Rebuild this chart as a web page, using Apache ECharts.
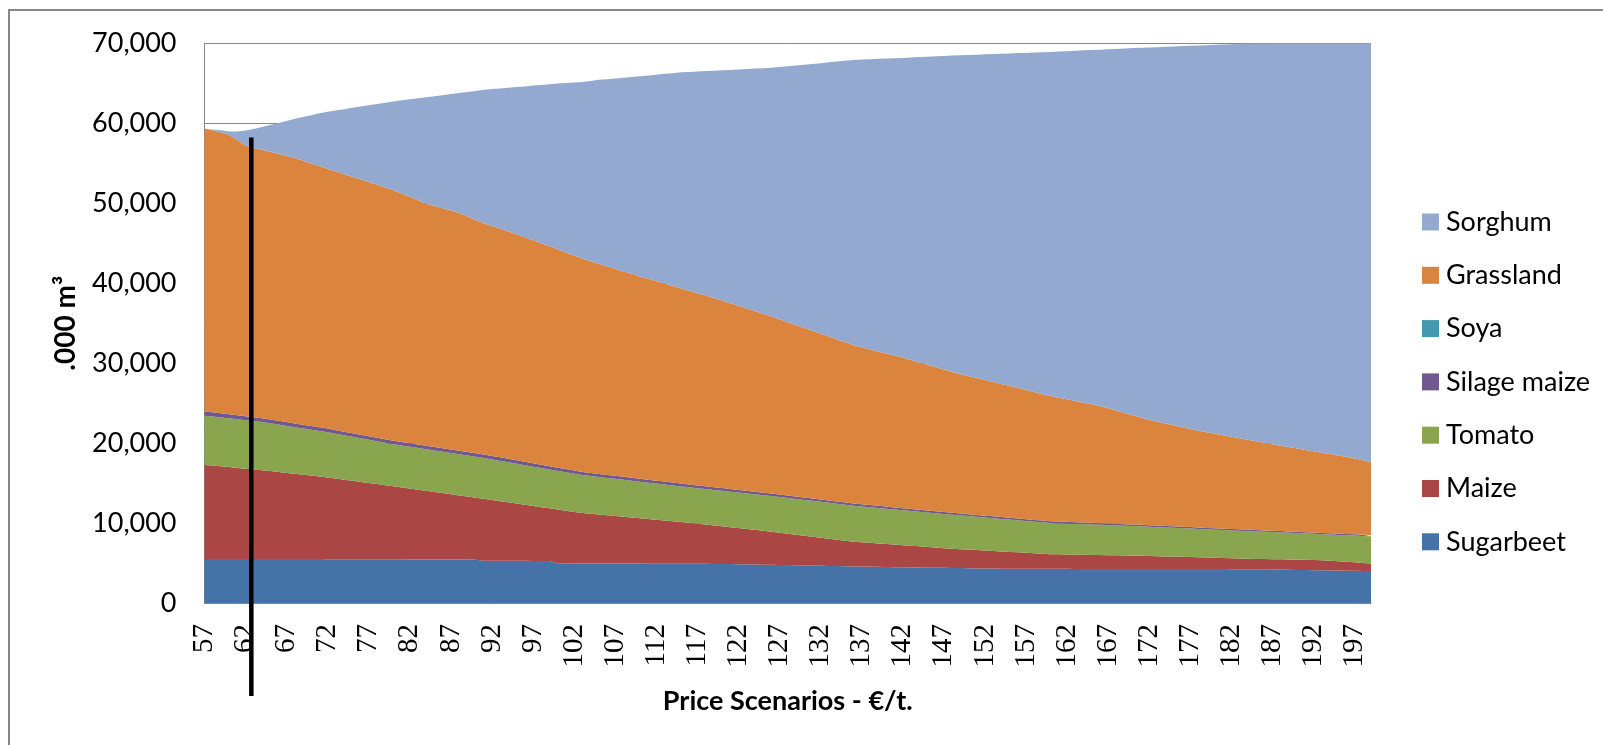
<!DOCTYPE html>
<html><head><meta charset="utf-8">
<script src="https://cdn.jsdelivr.net/npm/echarts@6/dist/echarts.min.js"></script>
<style>html,body{margin:0;padding:0;background:#fff}#c{width:1603px;height:745px}</style>
</head><body><div id="c"></div><script>
const categories = [57,58,59,60,61,62,63,64,65,66,67,68,69,70,71,72,73,74,75,76,77,78,79,80,81,82,83,84,85,86,87,88,89,90,91,92,93,94,95,96,97,98,99,100,101,102,103,104,105,106,107,108,109,110,111,112,113,114,115,116,117,118,119,120,121,122,123,124,125,126,127,128,129,130,131,132,133,134,135,136,137,138,139,140,141,142,143,144,145,146,147,148,149,150,151,152,153,154,155,156,157,158,159,160,161,162,163,164,165,166,167,168,169,170,171,172,173,174,175,176,177,178,179,180,181,182,183,184,185,186,187,188,189,190,191,192,193,194,195,196,197,198,199];

const sugarbeet = [5500,5500,5500,5500,5500,5500,5500,5500,5500,5500,
5500,5490,5490,5490,5490,5480,5480,5480,5480,5470,
5470,5470,5460,5460,5460,5450,5450,5450,5440,5440,5440,5430,5430,5420,
5300,5300,5290,5290,5280,5280,5270,5270,5260,
4960,4960,4950,4950,4950,4940,4940,4940,4930,4930,4930,4920,4920,4920,4910,4910,4910,4900,4900,4890,4880,4870,4860,
4840,4820,4800,4780,4760,4740,4720,4700,4680,4660,4640,4620,4600,4580,4560,4540,4520,4500,4480,4460,4440,4430,4420,4410,4400,4390,4370,4350,4330,
4320,4310,4300,4300,4290,4290,4280,4280,4270,4270,4270,4260,4260,4260,4260,4250,4250,4250,4250,4250,4250,4240,4240,4240,4240,4240,4240,4240,4240,4240,4230,4230,4230,4220,
4210,4200,4180,4160,4140,4120,4110,
4090,4070,4060,4040,4030,4010,4000];

const maize = [11775,11700,11600,11500,11400,11300,11200,11110,
11000,10890,10780,10670,10560,10450,10340,10230,
10090,9950,9810,9680,9550,9410,9280,9140,
9000,8870,8720,8580,8450,8310,8160,8030,7890,7760,
7740,
7590,7450,7300,7160,7010,6870,6720,6590,6740,6590,6450,6300,
6210,6130,6030,5940,5860,5770,5670,5590,5500,5410,5320,5230,
5120,5020,4910,4810,4710,4610,4510,4420,4330,4240,4145,
4040,3935,3830,3725,3620,3515,3410,3305,3200,3095,
3040,2990,2935,2880,2830,2775,2720,2655,2590,2530,2465,2400,
2365,2330,2290,2245,2200,2150,2095,2050,1990,1945,1890,1840,
1820,1805,1795,1780,1760,1740,1735,1715,1695,1680,1660,1640,
1620,1590,1565,1535,1505,1475,1445,1415,1385,1370,1340,1310,
1300,1290,1280,1280,1280,1280,1280,1270,1270,
1230,1170,1120,1060,1010,950];

const tomato = [6150,6140,6120,6100,6080,6060,6050,6030,
5980,5930,5880,5830,5790,5740,5700,5650,
5600,5550,5500,5450,5400,5350,5300,5250,
5240,5230,5220,5200,5190,5180,5170,5150,5140,5120,5100,
5070,5040,5010,4980,4950,4920,4890,4860,4830,4800,4780,4750,
4720,4700,4670,4650,4620,4600,4570,4550,4520,4500,4470,4450,
4450,4440,4450,4440,4450,4450,4440,4450,4450,4440,4450,
4460,4460,4470,4470,4480,4480,4490,4490,4500,4500,
4480,4460,4440,4420,4390,4370,4350,4330,4310,4290,4270,4250,
4220,4190,4160,4130,4100,4070,4040,4010,3980,3950,3920,3900,
3880,3860,3840,3820,3800,3780,3760,3740,3720,3700,3680,3650,
3630,3620,3600,3580,3570,3550,3530,3520,3500,3480,3470,3450,
3430,3410,3390,3370,3350,3330,3300,3280,3250,
3270,3290,3320,3350,3370,3400];

const silageMaize = [520,520,510,500,500,490,
480,480,475,475,470,470,465,465,460,460,455,455,450,450,445,445,440,440,440,435,435,430,430,430,425,425,420,420,
450,445,440,435,430,425,420,415,410,405,400,395,390,386,382,378,375,372,370,368,366,364,362,361,360,
355,350,345,340,335,330,326,322,318,314,310,306,302,298,294,290,286,282,278,274,270,267,264,262,260,
258,256,254,252,250,248,246,244,242,240,238,236,234,232,230,228,226,224,222,220,218,216,214,212,210,208,206,204,202,200,
198,196,194,192,190,188,186,184,182,180,178,176,174,172,170,168,166,164,162,160,158,156,155,154,153,152,151,150,150];

const soya = [0,0,0,0,0,0,0,0,0,0,0,0,0,0,0,0,0,0,0,0,0,0,0,0,0,0,0,0,0,0,0,0,0,0,0,0,0,0,0,0,0,0,0,0,0,0,0,0,0,0,
0,0,0,0,0,0,0,0,0,0,0,0,0,0,0,0,0,0,0,0,0,0,0,0,0,0,0,0,0,0,0,0,0,0,0,0,0,0,0,0,0,0,0,0,0,0,0,0,0,0,
0,0,0,0,0,0,0,0,0,0,0,0,0,0,0,0,0,0,0,0,0,0,0,0,0,0,0,0,0,0,0,0,0,0,0,0,0,0,0,0,0,0,0];

const grassland = [35380,35300,35150,34950,34450,33900,33700,33580,33500,33400,
33300,33215,33030,32850,32670,32485,32350,32220,32090,31955,
31810,31660,31510,31365,31100,30830,30560,30290,30160,30030,
29900,29765,29480,29200,28910,28760,28600,28450,28300,28100,
27910,27710,27510,27315,27110,26910,26700,26500,26300,26100,
25900,25700,25510,25310,25130,24960,24780,24600,24425,24235,
24045,23855,23665,23475,23255,23040,22820,22600,22380,22165,
21930,21690,21455,21220,20980,20745,20510,20270,20035,19795,
19635,19475,19315,19160,19000,18840,18635,18430,18230,18025,
17820,17615,17455,17295,17135,16970,16810,16650,16485,16320,
16150,15985,15820,15655,15490,15325,15155,14990,14825,14660,
14410,14160,13910,13665,13415,13165,12990,12810,12635,12460,
12280,12100,11960,11820,11680,11540,11400,11260,11120,10975,
10835,10690,10550,10410,10285,10160,10040,9915,9790,9665,
9495,9320,9150];

const sorghum = [0,80,280,450,1070,1850,2370,2850,3350,3860,
4380,4895,5460,6030,6600,7170,7650,8130,8620,9100,
9600,10100,10600,11100,11650,12200,12750,13310,13730,14150,
14580,15000,15570,16130,16700,17130,17550,17980,18400,18870,
19340,19810,20280,20750,21200,21650,22100,22550,23000,23410,
23820,24230,24640,25050,25440,25830,26230,26620,27015,27370,
27730,28090,28440,28800,29185,29570,29955,30340,30725,31110,
31560,32015,32465,32920,33370,33840,34310,34770,35240,35710,
36010,36310,36610,36900,37200,37500,37850,38200,38550,38890,
39240,39590,39880,40170,40450,40740,41030,41320,41610,41900,
42190,42480,42770,43065,43320,43570,43820,44080,44330,44580,
44920,45250,45590,45930,46260,46600,46870,47130,47400,47670,
47930,48200,48430,48660,48890,49120,49350,49580,49780,49980,
50180,50380,50580,50780,50970,51150,51340,51530,51710,51900,
52130,52370,52600];

const legendOrder = ['Sorghum','Grassland','Soya','Silage maize','Tomato','Maize','Sugarbeet'];

const seriesDefs = [
  ['Sugarbeet', sugarbeet, '#4572A7'],
  ['Maize', maize, '#AA4643'],
  ['Tomato', tomato, '#89A54E'],
  ['Silage maize', silageMaize, '#71588F'],
  ['Soya', soya, '#4198AF'],
  ['Grassland', grassland, '#DB843D'],
  ['Sorghum', sorghum, '#93A9CF']
];

const chart = echarts.init(document.getElementById('c'), null, {renderer: 'canvas'});
const option = {
  animation: false,
  backgroundColor: '#ffffff',
  grid: {left: 204.5, right: 232, top: 43.5, bottom: 142},
  legend: {
    orient: 'vertical', left: 1417, top: 203.5,
    itemWidth: 17, itemHeight: 17, itemGap: 26.3, icon: 'rect',
    selectedMode: false, data: legendOrder,
    textStyle: {fontFamily: 'Lato', fontSize: 27, color: '#000', lineHeight: 27, padding: [0,0,0,2]}
  },
  xAxis: {
    type: 'category', data: categories, boundaryGap: false,
    axisLine: {lineStyle: {color: '#868686', width: 1}},
    axisTick: {show: false},
    axisLabel: {interval: 4, rotate: 90, margin: 21, fontFamily: 'Liberation Serif', fontSize: 29, color: '#000'},
    name: 'Price Scenarios - €/t.', nameLocation: 'middle', nameGap: 85,
    nameTextStyle: {fontFamily: 'Lato', fontWeight: 'bold', fontSize: 27, color: '#000'}
  },
  yAxis: {
    type: 'value', min: 0, max: 70000, interval: 10000,
    axisLine: {show: true, lineStyle: {color: '#868686', width: 1}},
    axisTick: {show: false},
    splitLine: {show: true, lineStyle: {color: '#868686', width: 1}},
    axisLabel: {margin: 28, fontFamily: 'Lato', fontSize: 27, color: '#000',
      formatter: v => v.toLocaleString('en-US')},
    name: '.000 m³', nameLocation: 'middle', nameGap: 125, nameRotate: 90,
    nameTextStyle: {fontFamily: 'Lato', fontWeight: 'bold', fontSize: 28, color: '#000'}
  },
  graphic: [{
    type: 'rect', silent: true, z: 0,
    shape: {x: 9, y: 10, width: 1700, height: 800},
    style: {fill: 'none', stroke: '#868686', lineWidth: 2}
  }],
  series: seriesDefs.map(([name, data, color]) => ({
    name, type: 'line', stack: 'total', data,
    symbol: 'none', showSymbol: false,
    lineStyle: {width: 0, color},
    itemStyle: {color},
    areaStyle: {color, opacity: 1},
    emphasis: {disabled: true}
  }))
};
chart.setOption(option);

// annotation line just right of the 62 price scenario
const x62 = chart.convertToPixel({xAxisIndex: 0}, '62');
const x63 = chart.convertToPixel({xAxisIndex: 0}, '63');
const xLine = x62 + 0.7 * (x63 - x62);
const yTop = chart.convertToPixel({yAxisIndex: 0}, 58250);
const yBase = chart.convertToPixel({yAxisIndex: 0}, 0);
chart.setOption({graphic: [option.graphic[0], {
  type: 'line', silent: true, z: 100,
  shape: {x1: xLine, y1: yTop, x2: xLine, y2: yBase + 93},
  style: {stroke: '#000', lineWidth: 4.5}
}]});
</script></body></html>
